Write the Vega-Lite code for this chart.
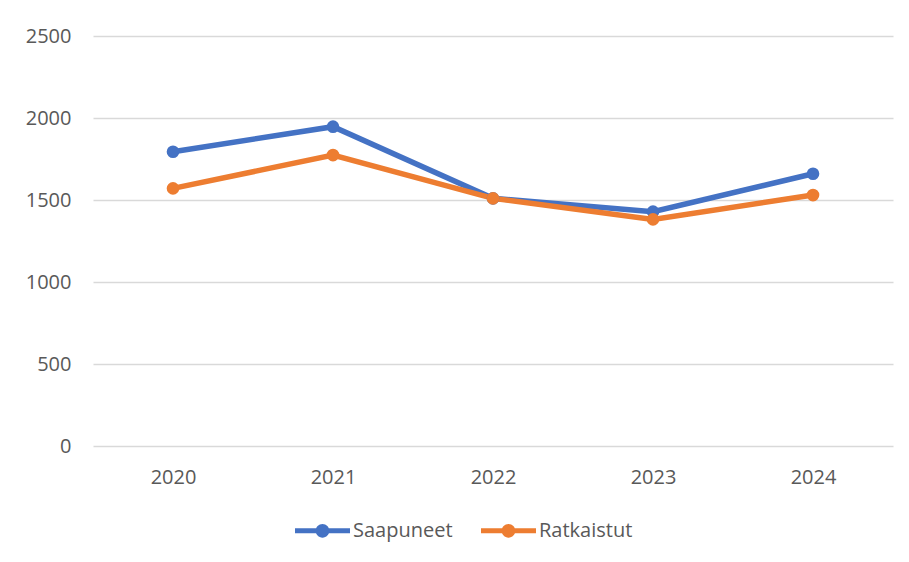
{
  "$schema": "https://vega.github.io/schema/vega-lite/v6.json",
  "width": 800,
  "height": 410,
  "autosize": {"type": "none"},
  "padding": {"left": 93, "top": 36, "right": 16, "bottom": 116},
  "background": "white",
  "config": {
    "view": {"stroke": null},
    "font": "Open Sans",
    "axis": {"labelFont": "Open Sans", "labelFontSize": 20, "labelColor": "#595959", "title": null}
  },
  "data": {
    "values": [
      {"year": "2020", "series": "Saapuneet", "value": 1794},
      {"year": "2021", "series": "Saapuneet", "value": 1947},
      {"year": "2022", "series": "Saapuneet", "value": 1510},
      {"year": "2023", "series": "Saapuneet", "value": 1429},
      {"year": "2024", "series": "Saapuneet", "value": 1660},
      {"year": "2020", "series": "Ratkaistut", "value": 1571},
      {"year": "2021", "series": "Ratkaistut", "value": 1774},
      {"year": "2022", "series": "Ratkaistut", "value": 1510},
      {"year": "2023", "series": "Ratkaistut", "value": 1382},
      {"year": "2024", "series": "Ratkaistut", "value": 1530}
    ]
  },
  "encoding": {
    "x": {
      "field": "year", "type": "ordinal",
      "scale": {"type": "point", "padding": 0.5},
      "axis": {"labelAngle": 0, "ticks": false, "domain": false, "grid": false, "labelPadding": 21}
    },
    "y": {
      "field": "value", "type": "quantitative",
      "scale": {"domain": [0, 2500]},
      "axis": {"values": [0, 500, 1000, 1500, 2000, 2500], "format": "d", "ticks": false, "domain": false, "grid": true, "gridColor": "#d9d9d9", "gridWidth": 1.3, "labelPadding": 22}
    },
    "color": {
      "field": "series", "type": "nominal",
      "scale": {"domain": ["Saapuneet", "Ratkaistut"], "range": ["#4472C4", "#ED7D31"]},
      "legend": {
        "orient": "none", "legendX": 202, "legendY": 467, "direction": "horizontal", "title": null,
        "labelFontSize": 20, "labelColor": "#595959", "labelFont": "Open Sans",
        "symbolType": "M-1,-0.09L1,-0.09L1,0.09L-1,0.09Z M-0.25,0A0.25,0.25 0 1,1 0.25,0A0.25,0.25 0 1,1 -0.25,0Z",
        "symbolSize": 3025, "symbolStrokeWidth": 0, "labelOffset": 3, "columnPadding": 28
      }
    }
  },
  "layer": [
    {"mark": {"type": "line", "strokeWidth": 5.5}},
    {"mark": {"type": "point", "filled": true, "size": 160, "opacity": 1}}
  ]
}
